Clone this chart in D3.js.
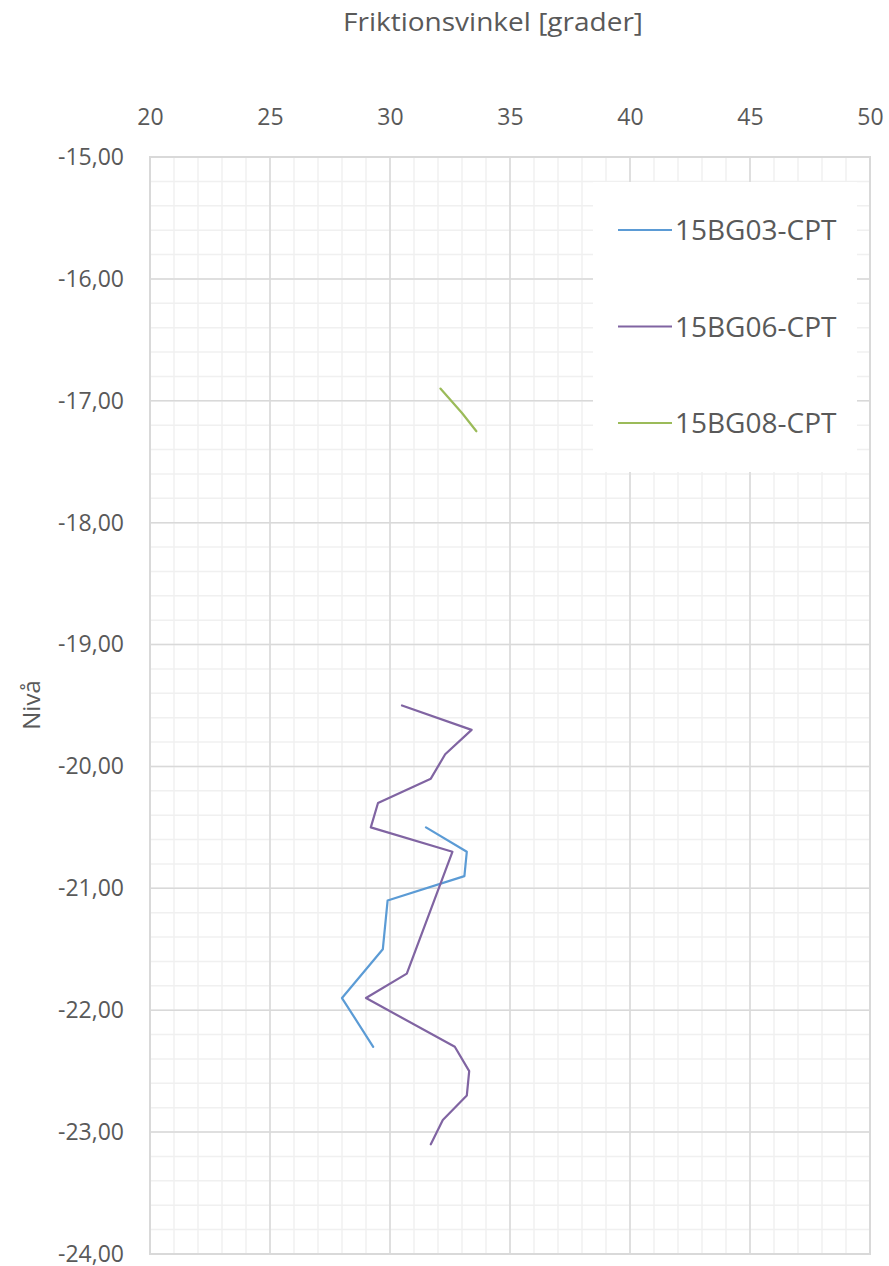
<!DOCTYPE html>
<html><head><meta charset="utf-8">
<script src="https://cdn.jsdelivr.net/npm/d3@7/dist/d3.min.js"></script>
<style>body{margin:0;background:#fff}svg{display:block}text{font-family:"Open Sans",sans-serif;fill:#595959}</style>
</head><body><svg id="c" width="889" height="1266"></svg>
<script>
const xTicks = [20,25,30,35,40,45,50];
const yTicks = [-15,-16,-17,-18,-19,-20,-21,-22,-23,-24];
const seriesNames = ["15BG03-CPT","15BG06-CPT","15BG08-CPT"];
const seriesColors = ["#5b9bd5","#8064a2","#9bbb59"];
const bg03Angle = [31.5,33.2,33.1,29.9,29.7,28.0,29.3];
const bg03Level = [-20.5,-20.7,-20.9,-21.1,-21.5,-21.9,-22.3];
const bg06Angle = [30.5,33.4,32.3,31.7,29.5,29.2,32.6,30.7,29.0,32.7,33.3,33.2,32.2,31.7];
const bg06Level = [-19.5,-19.7,-19.9,-20.1,-20.3,-20.5,-20.7,-21.7,-21.9,-22.3,-22.5,-22.7,-22.9,-23.1];
const bg08Angle = [32.1,33.0,33.6];
const bg08Level = [-16.9,-17.1,-17.25];

const svg = d3.select("#c");
const L=150,R=870,T=157,B=1254;
const x = d3.scaleLinear().domain([20,50]).range([L,R]);
const y = d3.scaleLinear().domain([-15,-24]).range([T,B]);

// minor grid
const g = svg.append("g");
g.selectAll(".mx").data(d3.range(20,50.01,1)).join("line")
  .attr("x1",d=>x(d)).attr("x2",d=>x(d)).attr("y1",T).attr("y2",B)
  .attr("stroke","#f0f0f0").attr("stroke-width",1.5);
g.selectAll(".my").data(d3.range(0,45.5,1).map(i=>-15-i*0.2)).join("line")
  .attr("y1",d=>y(d)).attr("y2",d=>y(d)).attr("x1",L).attr("x2",R)
  .attr("stroke","#f0f0f0").attr("stroke-width",1.5);
// major grid
g.selectAll(".Mx").data(xTicks).join("line")
  .attr("x1",d=>x(d)).attr("x2",d=>x(d)).attr("y1",T).attr("y2",B)
  .attr("stroke","#d9d9d9").attr("stroke-width",1.5);
g.selectAll(".My").data(yTicks).join("line")
  .attr("y1",d=>y(d)).attr("y2",d=>y(d)).attr("x1",L).attr("x2",R)
  .attr("stroke","#d9d9d9").attr("stroke-width",1.5);
svg.append("rect").attr("x",L).attr("y",T).attr("width",R-L).attr("height",B-T)
  .attr("fill","none").attr("stroke","#d9d9d9").attr("stroke-width",2);

// axes labels via d3 axes
const xa = svg.append("g").attr("transform",`translate(0,${T})`)
  .call(d3.axisTop(x).tickValues(xTicks).tickSize(0).tickPadding(32));
xa.select(".domain").remove();
xa.selectAll("text").attr("font-size",23).attr("fill","#595959").attr("font-family","Open Sans");
const ya = svg.append("g").attr("transform",`translate(${L},0)`)
  .call(d3.axisLeft(y).tickValues(yTicks).tickSize(0).tickPadding(26)
    .tickFormat(d=>d.toFixed(2).replace(".",",")));
ya.select(".domain").remove();
ya.selectAll("text").attr("font-size",23).attr("fill","#595959").attr("font-family","Open Sans");

svg.append("text").attr("x",493).attr("y",31).attr("text-anchor","middle")
  .attr("font-size",26).attr("textLength",300).attr("lengthAdjust","spacingAndGlyphs")
  .text("Friktionsvinkel [grader]");
svg.append("text").attr("transform","translate(40,705) rotate(-90)").attr("text-anchor","middle")
  .attr("font-size",24).text("Nivå");

// lines
const data = [
  bg03Angle.map((a,i)=>[a,bg03Level[i]]),
  bg06Angle.map((a,i)=>[a,bg06Level[i]]),
  bg08Angle.map((a,i)=>[a,bg08Level[i]])
];
const line = d3.line().x(d=>x(d[0])).y(d=>y(d[1]));
svg.selectAll(".s").data(data).join("path")
  .attr("d",line).attr("fill","none")
  .attr("stroke",(d,i)=>seriesColors[i]).attr("stroke-width",2.2)
  .attr("stroke-linejoin","round").attr("stroke-linecap","round");

// legend
const lg = svg.append("g");
lg.append("rect").attr("x",593).attr("y",182).attr("width",264).attr("height",290).attr("fill","#fff");
seriesNames.forEach((n,i)=>{
  const yy = 230 + i*96.5;
  lg.append("line").attr("x1",618).attr("x2",672).attr("y1",yy).attr("y2",yy)
    .attr("stroke",seriesColors[i]).attr("stroke-width",2.2);
  lg.append("text").attr("x",675).attr("y",yy).attr("dy","0.36em")
    .attr("font-size",28).text(n);
});
</script></body></html>
